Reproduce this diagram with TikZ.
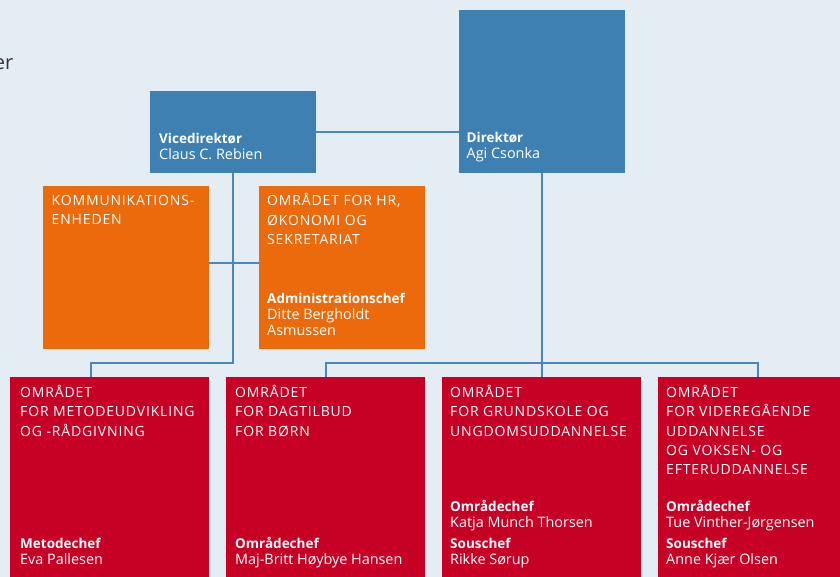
\documentclass[tikz,border=0pt]{standalone}
\usepackage{fontspec}
\setmainfont{Open Sans}
\newfontfamily\capsfont[LetterSpace=6]{Open Sans}
\newcommand\boldlbl[1]{{\fontsize{13.5}{16}\selectfont\bfseries #1}}
\definecolor{bgc}{HTML}{E4ECF4}
\definecolor{dirblue}{HTML}{3E80B1}
\definecolor{orng}{HTML}{EA6A0C}
\definecolor{rd}{HTML}{C70025}
\definecolor{lnc}{HTML}{4A86B8}
\definecolor{txtgray}{HTML}{333333}
\tikzset{
  box/.style={inner sep=0pt, outer sep=0pt, anchor=north west, draw=none},
  bluebox/.style={box, fill=dirblue},
  orangebox/.style={box, fill=orng, minimum width=166pt, minimum height=163pt},
  redbox/.style={box, fill=rd, minimum width=199pt, minimum height=200pt},
  capstxt/.style={inner sep=0pt, anchor=base west, align=left, text=white,
    font=\capsfont\fontsize{14}{19.2}\selectfont},
  nametxt/.style={inner sep=0pt, anchor=base west, align=left, text=white,
    font=\fontsize{14.4}{16}\selectfont},
  conn/.style={draw=lnc, line width=2pt},
}
\begin{document}
\begin{tikzpicture}[x=1pt,y=-1pt]
\useasboundingbox (0,0) rectangle (840,577);
\fill[bgc] (0,0) rectangle (840,577);
\clip (0,0) rectangle (840,577);

% text fragment (cut off at the left edge, as in the reference)
\node[inner sep=0pt, anchor=base east, text=txtgray, font=\fontsize{20}{24}\selectfont] (frag) at (13.5,70) {er};

% boxes
\node[bluebox, minimum width=166pt, minimum height=163pt] (dir) at (459,10) {};
\node[bluebox, minimum width=166pt, minimum height=82pt] (vice) at (150,91) {};
\node[orangebox] (kom) at (43,186) {};
\node[orangebox] (hr) at (259,186) {};
\node[redbox] (m1) at (10,377) {};
\node[redbox] (m2) at (226,377) {};
\node[redbox] (m3) at (442,377) {};
\node[redbox] (m4) at (658,377) {};

% connector helper coordinates
\coordinate (komy) at (0,263);
\coordinate (bary) at (0,363);
\coordinate (m1in) at (91,377);

% connectors
\draw[conn] (vice.east) -- (vice.east -| dir.west);
\draw[conn] (vice.south) -- (vice.south |- bary) -| (m1in);
\draw[conn] (kom.east |- komy) -- (hr.west |- komy);
\draw[conn] (dir.south) -- (dir.south |- m3.north);
\draw[conn] (m2.north) -- (m2.north |- bary) -| (m4.north);

% texts (anchored at the baseline of the last line)
\node[nametxt] (dirt) at (466.5,159) {\boldlbl{Direktør}\\Agi Csonka};
\node[nametxt] (vicet) at (159,159.3) {\boldlbl{Vicedirektør}\\Claus C. Rebien};
\node[capstxt] (komt) at (51.5,225) {KOMMUNIKATIONS-\\ENHEDEN};
\node[capstxt] (hrt) at (267,244.2) {OMRÅDET FOR HR,\\ØKONOMI OG\\SEKRETARIAT};
\node[nametxt] (hrn) at (267,335) {\boldlbl{Administrationschef}\\Ditte Bergholdt\\Asmussen};

\node[capstxt] (m1t) at (20,436.1) {OMRÅDET\\FOR METODEUDVIKLING\\OG -RÅDGIVNING};
\node[nametxt] (m1n) at (20,564) {\boldlbl{Metodechef}\\Eva Pallesen};

\node[capstxt] (m2t) at (235,436.1) {OMRÅDET\\FOR DAGTILBUD\\FOR BØRN};
\node[nametxt] (m2n) at (235,564) {\boldlbl{Områdechef}\\Maj-Britt Høybye Hansen};

\node[capstxt] (m3t) at (450,436.1) {OMRÅDET\\FOR GRUNDSKOLE OG\\UNGDOMSUDDANNELSE};
\node[nametxt] (m3n) at (450,564) {\boldlbl{Områdechef}\\Katja Munch Thorsen\\[5pt]\boldlbl{Souschef}\\Rikke Sørup};

\node[capstxt] (m4t) at (666,474.5) {OMRÅDET\\FOR VIDEREGÅENDE\\UDDANNELSE\\OG VOKSEN- OG\\EFTERUDDANNELSE};
\node[nametxt] (m4n) at (666,564) {\boldlbl{Områdechef}\\Tue Vinther-Jørgensen\\[5pt]\boldlbl{Souschef}\\Anne Kjær Olsen};
\end{tikzpicture}
\end{document}
